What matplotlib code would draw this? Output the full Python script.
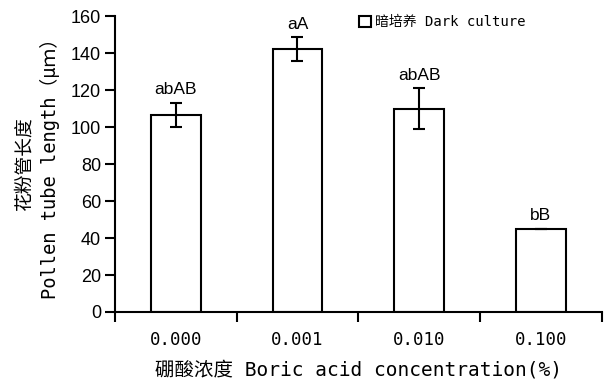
import numpy as np
import matplotlib.pyplot as plt
from matplotlib.ticker import FixedLocator

# Data
categories = ['0.000', '0.001', '0.010', '0.100']
lengths = [106.5, 142.0, 110.0, 45.0]
errors = [6.5, 6.5, 11.0, 0.0]
letters = ['abAB', 'aA', 'abAB', 'bB']

mono = ['DejaVu Sans Mono', 'Noto Sans CJK SC']
sans = ['Liberation Sans', 'DejaVu Sans']

fig = plt.figure(figsize=(6.11, 3.83), dpi=100)
ax = fig.add_axes([0.188, 0.1854, 0.797, 0.7726])

x = np.arange(len(categories))
ax.bar(x, lengths, width=0.41, color='white', edgecolor='black', linewidth=1.5,
       label='暗培养 Dark culture', zorder=2)
ax.errorbar(x, lengths, yerr=errors, fmt='none', ecolor='black', elinewidth=1.5,
            capsize=4, capthick=1.5, zorder=3)

for xi, v, e, s in zip(x, lengths, errors, letters):
    ax.text(xi, v + e + 3, s, ha='center', va='bottom', fontsize=12.5, family=sans)

ax.set_xlim(-0.5, 3.5)
ax.set_ylim(0, 160)
ax.set_yticks(np.arange(0, 161, 20))
for lab in ax.get_yticklabels():
    lab.set_family(sans)
    lab.set_fontsize(13)

# boundary ticks and centred labels on the x axis
ax.xaxis.set_major_locator(FixedLocator(np.arange(-0.5, 4, 1)))
ax.xaxis.set_minor_locator(FixedLocator(x))
ax.set_xticklabels([], minor=False)
ax.set_xticklabels(categories, minor=True, fontsize=12.5, family=mono)
ax.tick_params(axis='x', which='major', direction='out', length=7, width=1.5)
ax.tick_params(axis='x', which='minor', length=0, pad=14)
ax.tick_params(axis='y', direction='out', length=7, width=1.5, pad=3)

for sp in ['top', 'right']:
    ax.spines[sp].set_visible(False)
for sp in ['left', 'bottom']:
    ax.spines[sp].set_linewidth(1.5)

ax.set_xlabel('硼酸浓度 Boric acid concentration(%)', fontsize=14, family=mono, labelpad=8)
ax.set_ylabel('花粉管长度\nPollen tube length（μｍ）', fontsize=13.5, family=mono,
              linespacing=1.35, labelpad=8)

leg = ax.legend(loc='upper left', bbox_to_anchor=(0.475, 1.045), frameon=False,
                handlelength=0.9, handleheight=0.9, handletextpad=0.3,
                prop={'family': mono, 'size': 10})

fig.savefig('out.png', dpi=100)
